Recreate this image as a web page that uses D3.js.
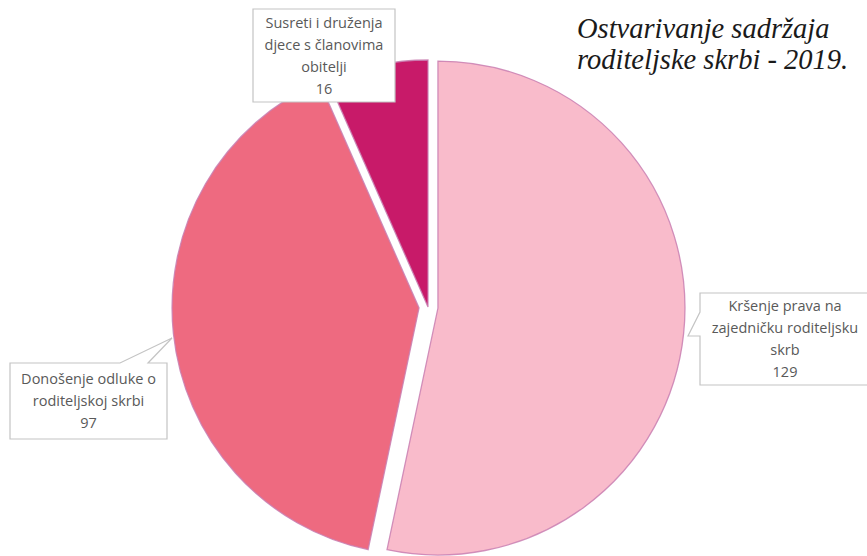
<!DOCTYPE html>
<html lang="hr">
  <head>
    <meta charset="UTF-8" />
    <title>Ostvarivanje sadržaja roditeljske skrbi - 2019.</title>
    <style>
      body {
        margin: 0;
        background: #fff;
      }
      .slice {
        stroke: #c97fb2;
        stroke-width: 1.3px;
        stroke-opacity: 0.85;
      }
      .callout {
        fill: #fff;
        stroke: #c4c4c4;
        stroke-width: 1.2px;
      }
      .lbl {
        font-family: "Open Sans", sans-serif;
        font-size: 14.5px;
        fill: #595959;
      }
      .title {
        font-family: "Liberation Serif", serif;
        font-style: italic;
        font-size: 28.5px;
        fill: #1a1a1a;
      }
    </style>
  </head>
  <body>
    <svg width="867" height="556"></svg>
    <script src="https://cdnjs.cloudflare.com/ajax/libs/d3/7.8.5/d3.min.js"></script>
    <script>
      // podaci
      const categories = [
        "Kršenje prava na\nzajedničku roditeljsku\nskrb",
        "Donošenje odluke o\nroditeljskoj skrbi",
        "Susreti i druženja\ndjece s članovima\nobitelji",
      ];
      const values = [129, 97, 16];
      const colors = ["#f9bbcb", "#ee6a80", "#c81a69"];
      const titleLines = ["Ostvarivanje sadržaja", "roditeljske skrbi - 2019."];

      // izgled
      const explode = [10, 9, 0];
      const cx = 428, cy = 307, radius = 247;
      // okvir oznake: x, y, w, h, vrh pokazivača, baza pokazivača
      const boxes = [
        { x: 700, y: 293, w: 170, h: 92, tip: [688, 336], base: [[700, 312], [700, 336]] },
        { x: 10, y: 363, w: 157, h: 76, tip: [172, 338], base: [[120, 363], [148, 363]] },
        { x: 253, y: 9, w: 142, h: 93, tip: null },
      ];

      const svg = d3.select("svg");
      const g = svg.append("g").attr("transform", `translate(${cx},${cy})`);

      const pie = d3.pie().sort(null).value((d) => d).startAngle(0);
      const arc = d3.arc().innerRadius(0).outerRadius(radius);
      const arcs = pie(values);

      g.selectAll("path")
        .data(arcs)
        .enter()
        .append("path")
        .attr("class", "slice")
        .attr("fill", (d, i) => colors[i])
        .attr("transform", (d, i) => {
          const a = (d.startAngle + d.endAngle) / 2;
          return `translate(${explode[i] * Math.sin(a)},${-explode[i] * Math.cos(a)})`;
        })
        .attr("d", arc);

      // oblačići s oznakama
      const lab = svg.append("g");
      boxes.forEach((b, i) => {
        let p;
        const x0 = b.x, y0 = b.y, x1 = b.x + b.w, y1 = b.y + b.h;
        if (!b.tip) {
          p = `M${x0},${y0}H${x1}V${y1}H${x0}Z`;
        } else if (b.base[0][0] === x0) {
          // pokazivač na lijevoj strani
          p = `M${x0},${y0}H${x1}V${y1}H${x0}V${b.base[1][1]}L${b.tip[0]},${b.tip[1]}L${x0},${b.base[0][1]}Z`;
        } else {
          // pokazivač na gornjoj strani
          p = `M${x0},${y0}H${b.base[0][0]}L${b.tip[0]},${b.tip[1]}L${b.base[1][0]},${y0}H${x1}V${y1}H${x0}Z`;
        }
        lab.append("path").attr("class", "callout").attr("d", p);

        const lines = categories[i].split("\n").concat([String(values[i])]);
        const lh = 22;
        const top = (y0 + y1) / 2 - ((lines.length - 1) * lh) / 2;
        const t = lab
          .append("text")
          .attr("class", "lbl")
          .attr("text-anchor", "middle");
        lines.forEach((s, k) => {
          t.append("tspan")
            .attr("x", Math.min((x0 + x1) / 2, 785))
            .attr("y", top + k * lh)
            .attr("dy", "0.35em")
            .text(s);
        });
      });

      // naslov
      svg
        .append("text")
        .attr("class", "title")
        .selectAll("tspan")
        .data(titleLines)
        .enter()
        .append("tspan")
        .attr("x", 577)
        .attr("y", (d, i) => 38 + i * 31)
        .text((d) => d);
    </script>
  </body>
</html>
